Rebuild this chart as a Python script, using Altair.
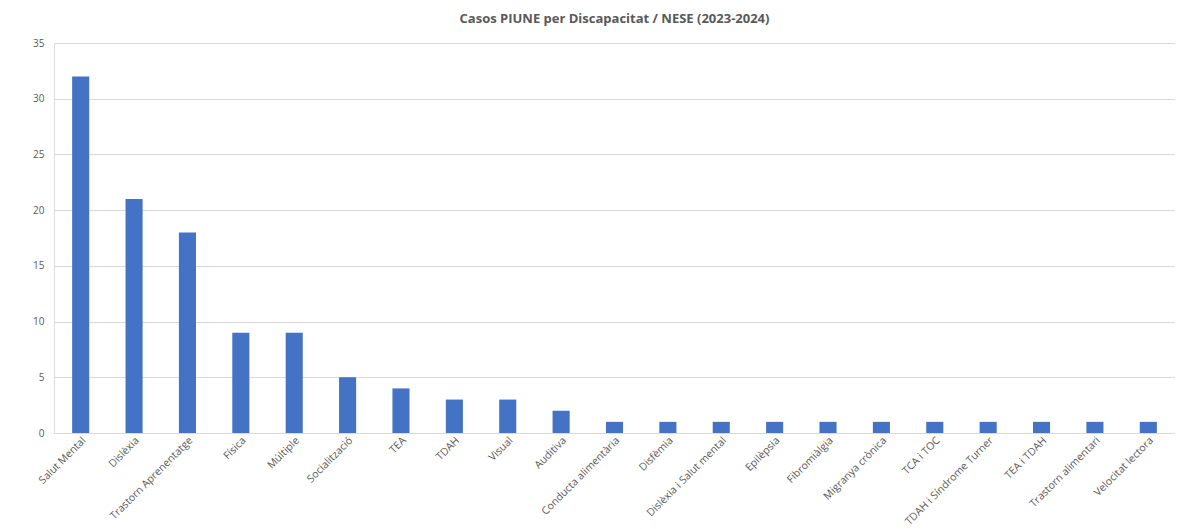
import altair as alt
import pandas as pd

categories = ["Salut Mental", "Dislèxia", "Trastorn Aprenentatge", "Física", "Múltiple",
              "Socialització", "TEA", "TDAH", "Visual", "Auditiva",
              "Conducta alimentària", "Disfèmia", "Dislèxia i Salut mental", "Epilèpsia",
              "Fibromiàlgia", "Migranya crònica", "TCA i TOC", "TDAH i Síndrome Turner",
              "TEA i TDAH", "Trastorn alimentari", "Velocitat lectora"]
values = [32, 21, 18, 9, 9, 5, 4, 3, 3, 2, 1, 1, 1, 1, 1, 1, 1, 1, 1, 1, 1]
y_ticks = [0, 5, 10, 15, 20, 25, 30, 35]

df = pd.DataFrame({"cat": categories, "val": values})

chart = alt.Chart(df).mark_bar(color="#4472C4").encode(
    x=alt.X("cat:N", sort=categories, title=None,
            scale=alt.Scale(paddingInner=0.68, paddingOuter=0.34),
            axis=alt.Axis(labelAngle=-45, labelAlign="right", labelBaseline="top",
                          labelFont="Open Sans", labelFontSize=10.5, labelColor="#595959",
                          domainColor="#d9d9d9", ticks=False, labelPadding=2,
                          labelOverlap=False, labelLimit=200)),
    y=alt.Y("val:Q", title=None,
            scale=alt.Scale(domain=[0, 35], nice=False),
            axis=alt.Axis(values=y_ticks, labelFont="Open Sans", labelFontSize=10,
                          labelColor="#595959", gridColor="#d9d9d9", domain=False,
                          ticks=False, labelPadding=10)),
).properties(
    width=1121, height=390,
    title=alt.TitleParams("Casos PIUNE per Discapacitat / NESE (2023-2024)",
                          font="Open Sans", fontSize=13, fontWeight="bold",
                          color="#595959", anchor="middle", offset=12),
).configure_view(stroke=None).configure(padding={"left": 24, "top": 5, "right": 0, "bottom": 0})

chart.save("out.html", embed_options={"renderer": "svg", "actions": False})
